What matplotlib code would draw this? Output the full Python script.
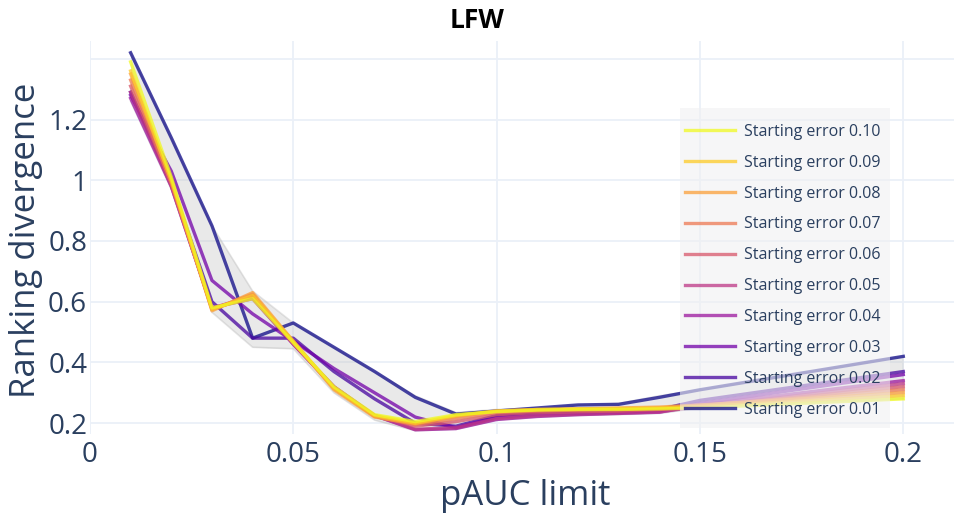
import matplotlib
matplotlib.use('Agg')
import matplotlib.pyplot as plt
from matplotlib.patches import Rectangle

plt.rcParams['font.family'] = ['Open Sans', 'DejaVu Sans']

# pAUC limits on the x axis
pauc = [0.01, 0.02, 0.03, 0.04, 0.05, 0.06, 0.07, 0.08, 0.09, 0.10,
        0.11, 0.12, 0.13, 0.14, 0.15, 0.20]

# one curve per starting error
err_001 = [1.42, 1.14, 0.85, 0.48, 0.53, 0.45, 0.37, 0.285, 0.23, 0.24, 0.25, 0.26, 0.262, 0.285, 0.31, 0.42]
err_002 = [1.29, 0.99, 0.60, 0.48, 0.48, 0.37, 0.28, 0.20, 0.19, 0.225, 0.235, 0.24, 0.242, 0.245, 0.275, 0.37]
err_003 = [1.28, 1.03, 0.67, 0.56, 0.47, 0.38, 0.30, 0.22, 0.185, 0.22, 0.23, 0.232, 0.235, 0.24, 0.265, 0.36]
err_004 = [1.27, 0.98, 0.58, 0.61, 0.46, 0.32, 0.225, 0.178, 0.182, 0.212, 0.222, 0.228, 0.232, 0.236, 0.26, 0.34]
err_005 = [1.29, 0.98, 0.58, 0.615, 0.46, 0.32, 0.225, 0.18, 0.185, 0.215, 0.225, 0.23, 0.233, 0.237, 0.255, 0.33]
err_006 = [1.31, 0.99, 0.575, 0.62, 0.465, 0.315, 0.225, 0.19, 0.205, 0.228, 0.235, 0.238, 0.24, 0.245, 0.255, 0.32]
err_007 = [1.33, 0.99, 0.575, 0.625, 0.465, 0.315, 0.222, 0.195, 0.215, 0.235, 0.24, 0.243, 0.245, 0.25, 0.258, 0.31]
err_008 = [1.35, 1.00, 0.57, 0.63, 0.47, 0.31, 0.22, 0.198, 0.222, 0.24, 0.245, 0.247, 0.25, 0.253, 0.26, 0.30]
err_009 = [1.36, 1.00, 0.575, 0.62, 0.47, 0.315, 0.225, 0.20, 0.225, 0.24, 0.245, 0.247, 0.248, 0.25, 0.255, 0.29]
err_010 = [1.39, 1.01, 0.58, 0.61, 0.465, 0.32, 0.228, 0.205, 0.228, 0.238, 0.243, 0.245, 0.245, 0.247, 0.25, 0.28]

# grey spread band behind the curves
band_low = [1.26, 0.97, 0.565, 0.45, 0.445, 0.30, 0.21, 0.175, 0.18, 0.21, 0.22, 0.225, 0.228, 0.232, 0.25, 0.28]
band_high = [1.42, 1.14, 0.85, 0.635, 0.53, 0.45, 0.37, 0.29, 0.235, 0.245, 0.25, 0.26, 0.265, 0.29, 0.31, 0.42]

labels = ['Starting error 0.01', 'Starting error 0.02', 'Starting error 0.03',
          'Starting error 0.04', 'Starting error 0.05', 'Starting error 0.06',
          'Starting error 0.07', 'Starting error 0.08', 'Starting error 0.09',
          'Starting error 0.10']
curves = [err_001, err_002, err_003, err_004, err_005,
          err_006, err_007, err_008, err_009, err_010]

# plotly's Plasma sequence
plasma = ['#0d0887', '#46039f', '#7201a8', '#9c179e', '#bd3786',
          '#d8576b', '#ed7953', '#fb9f3a', '#fdca26', '#f0f921']

txt = '#2a3f5f'
grid = '#ebf0f8'

fig = plt.figure(figsize=(9.57, 5.18), dpi=100)
ax = fig.add_axes([0.094, 0.162, 0.903, 0.759])

ax.fill_between(pauc, band_low, band_high, color='#c8c8c8', alpha=0.4,
                linewidth=0, zorder=1)
ax.plot(pauc, band_low, color='#b4b4b4', alpha=0.35, lw=1.2, zorder=1)
ax.plot(pauc, band_high, color='#b4b4b4', alpha=0.35, lw=1.2, zorder=1)

handles = []
for vals, col, lab in zip(curves, plasma, labels):
    h, = ax.plot(pauc, vals, color=col, lw=2.4, alpha=0.75, label=lab,
                 solid_joinstyle='round', zorder=2)
    handles.append(h)

ax.set_xlim(0, 0.2125)
ax.set_ylim(0.164, 1.459)
ax.set_xticks([0, 0.05, 0.1, 0.15, 0.2])
ax.set_xticklabels(['0', '0.05', '0.1', '0.15', '0.2'])
ax.set_yticks([0.2, 0.4, 0.6, 0.8, 1.0, 1.2, 1.4])
ax.set_yticklabels(['0.2', '0.4', '0.6', '0.8', '1', '1.2', ''])
ax.tick_params(axis='both', length=0, labelsize=20, colors=txt)
ax.tick_params(axis='x', pad=5)
ax.tick_params(axis='y', pad=2)
ax.grid(True, color=grid, lw=1.3)
ax.set_axisbelow(True)
for s in ax.spines.values():
    s.set_visible(False)

fig.text(525 / 957, 1 - 496 / 518, 'pAUC limit', ha='center', va='center',
         fontsize=25, color=txt)
fig.text(26 / 957, 1 - 240 / 518, 'Ranking divergence', ha='center',
         va='center', rotation=90, fontsize=25, color=txt)
fig.text(0.498, 1 - 20 / 518, 'LFW', ha='center', va='center', fontsize=19,
         fontweight='bold', color='black')

# legend background box (plotly style, drawn over the plot)
ax.add_patch(Rectangle((0.683, 0.0153), 0.243, 0.814, transform=ax.transAxes,
                       facecolor='#f0f0f2', alpha=0.6, edgecolor='none',
                       zorder=3))
leg = ax.legend(handles[::-1], labels[::-1], loc='upper left',
                bbox_to_anchor=(0.6887, 0.789), fontsize=11.5,
                handlelength=3.1, handletextpad=0.6, labelspacing=0.93,
                borderpad=0, borderaxespad=0, frameon=False)
leg.set_zorder(4)
for t in leg.get_texts():
    t.set_color(txt)

plt.savefig('out.png', dpi=100)
